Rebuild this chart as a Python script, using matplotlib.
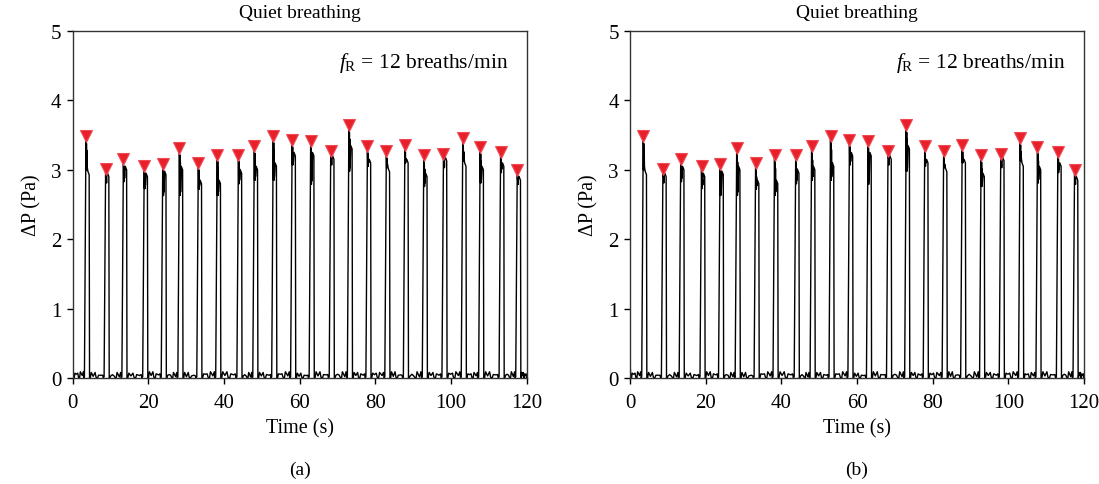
import matplotlib
matplotlib.use("Agg")
import matplotlib.pyplot as plt
import numpy as np

plt.rcParams['font.family'] = ['Liberation Serif', 'DejaVu Serif']
plt.rcParams['mathtext.fontset'] = 'custom'
plt.rcParams['mathtext.rm'] = 'Liberation Serif'
plt.rcParams['mathtext.it'] = 'Liberation Serif:italic'

# breath peaks (s, Pa)
peak_t = [3.5, 8.7, 13.4, 18.9, 23.8, 28.2, 33.2, 38.2, 43.8, 48.0, 53.0, 58.0,
          62.9, 68.2, 73.0, 77.9, 82.9, 87.8, 92.8, 98.0, 103.1, 107.7, 113.1, 117.5]
peak_v = [3.48, 3.01, 3.15, 3.06, 3.09, 3.31, 3.10, 3.22, 3.22, 3.34, 3.49, 3.43,
          3.41, 3.27, 3.64, 3.34, 3.27, 3.36, 3.21, 3.23, 3.46, 3.33, 3.26, 2.99]
# lowest value of the oscillation just after each peak
dip_v = [3.00, 2.90, 2.83, 2.73, 2.63, 2.63, 2.72, 2.63, 2.80, 2.85, 2.85, 3.07,
         2.79, 3.20, 2.98, 3.05, 3.03, 3.10, 2.76, 3.18, 3.13, 2.81, 2.96, 2.86]
# level the trace keeps before falling back to baseline
shoulder_v = [2.98, 2.95, 3.05, 2.95, 2.98, 3.05, 2.85, 2.85, 3.00, 3.05, 3.10, 3.25,
              3.25, 3.20, 3.35, 3.15, 3.02, 3.15, 2.95, 3.18, 3.10, 3.05, 3.10, 2.90]
# small baseline bumps in the gaps between breaths (25 gaps)
bump_a = [0.07, 0.08, 0.03, 0.07, 0.09, 0.04, 0.08, 0.06, 0.09, 0.03, 0.08, 0.06, 0.07,
          0.09, 0.04, 0.08, 0.07, 0.09, 0.03, 0.08, 0.07, 0.06, 0.09, 0.04, 0.08]
bump_b = [0.09, 0.04, 0.08, 0.05, 0.06, 0.08, 0.03, 0.09, 0.06, 0.08, 0.05, 0.09, 0.04,
          0.05, 0.09, 0.06, 0.08, 0.04, 0.09, 0.06, 0.09, 0.08, 0.05, 0.09, 0.06]
start_v = 0.2

x_ticks = [0, 20, 40, 60, 80, 100, 120]
y_ticks = [0, 1, 2, 3, 4, 5]


def build_trace():
    t = [0.0, 0.25]
    v = [start_v, 0.0]
    prev_end = 0.25
    for i in range(len(peak_t) + 1):
        nxt = peak_t[i] - 0.4 if i < len(peak_t) else 120.0
        g = nxt - prev_end
        t += [prev_end + 0.05 * g, prev_end + 0.12 * g, prev_end + 0.25 * g, prev_end + 0.38 * g,
              prev_end + 0.45 * g, prev_end + 0.55 * g, prev_end + 0.62 * g, prev_end + 0.8 * g,
              prev_end + 0.9 * g, prev_end + 0.95 * g]
        v += [0.0, bump_a[i], bump_b[i] * 0.6, bump_a[i], 0.01, 0.0, bump_b[i],
              bump_a[i] * 0.5, bump_b[i], 0.0]
        if i == len(peak_t):
            break
        tp, pv, dv, sv = peak_t[i], peak_v[i], dip_v[i], shoulder_v[i]
        t += [tp - 0.4, tp, tp + 0.08, tp + 0.14, tp + 0.2, tp + 0.26, tp + 0.32,
              tp + 0.5, tp + 0.85, tp + 0.95]
        v += [0.02, pv, dv, pv - 0.1, dv, pv - 0.2, dv + 0.05, sv, sv - 0.05, 0.0]
        prev_end = tp + 0.95
    return np.array(t), np.array(v)


tt, vv = build_trace()

fig = plt.figure(figsize=(10.99, 4.85), dpi=100)
lefts = [72.7 / 1099, 630 / 1099]
labels = ['(a)', '(b)']
for left, lab in zip(lefts, labels):
    ax = fig.add_axes([left, 106 / 485, 454 / 1099, 347 / 485])
    ax.plot(tt, vv, color='black', lw=1.0)
    ax.plot(peak_t, peak_v, 'v', color='#e8202a', mec='#f04a55', ms=8, mew=0.8)
    ax.set_xlim(0, 120)
    ax.set_ylim(0, 5)
    ax.set_xticks(x_ticks)
    ax.set_yticks(y_ticks)
    ax.tick_params(direction='out', length=4, width=1, labelsize=15, pad=4)
    ax.tick_params(axis='x', pad=7)
    for s in ax.spines.values():
        s.set_linewidth(1.0)
        s.set_color('#333333')
    ax.set_title('Quiet breathing', fontsize=14, pad=10)
    ax.set_xlabel('Time (s)', fontsize=14.5, labelpad=4)
    ax.set_ylabel(r'ΔP (Pa)', fontsize=14.5, labelpad=7)
    ax.text(0.96, 0.91, r'$f_\mathrm{R}$ = 12 breaths/min', transform=ax.transAxes,
            ha='right', va='center', fontsize=15.5)
    fig.text(left + 227 / 1099, 15 / 485, lab, ha='center', va='center', fontsize=14)

fig.savefig('out.png', dpi=100)
